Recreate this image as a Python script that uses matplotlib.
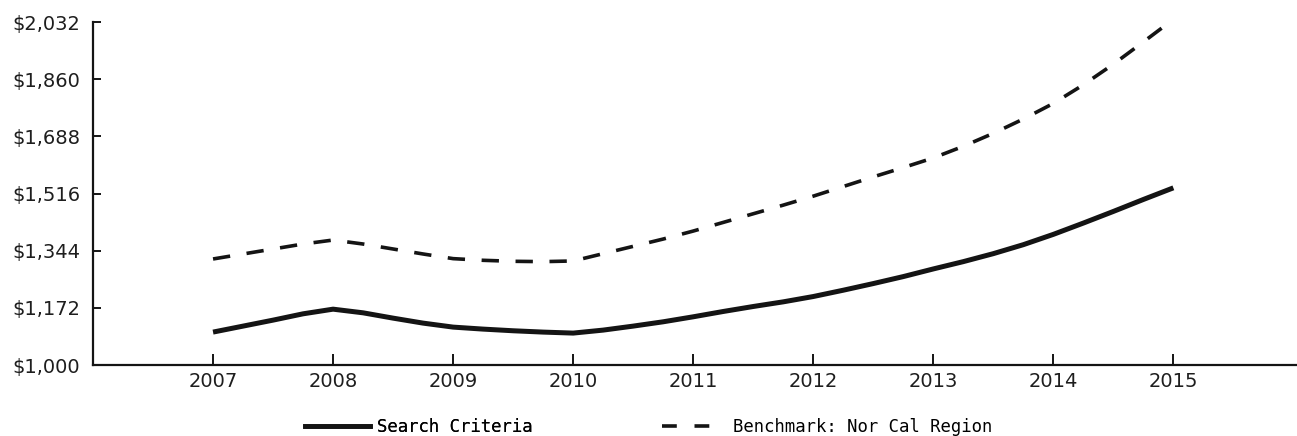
import matplotlib as mpl
mpl.use('Agg')
import matplotlib.pyplot as plt
from matplotlib.lines import Line2D

# values at quarter-year steps, 2007.0 .. 2015.0
years = [2007 + q * 0.25 for q in range(33)]

search_vals = [1099, 1117, 1135, 1154, 1168, 1157, 1141, 1126,
               1114, 1108, 1103, 1099, 1096, 1105, 1117, 1130,
               1145, 1161, 1176, 1190, 1206, 1225, 1245, 1266,
               1289, 1311, 1335, 1362, 1393, 1427, 1462, 1498,
               1533]

bench_vals = [1319, 1334, 1349, 1364, 1376, 1364, 1349, 1334,
              1320, 1315, 1312, 1311, 1313, 1335, 1357, 1379,
              1403, 1429, 1455, 1481, 1508, 1537, 1566, 1594,
              1623, 1658, 1697, 1740, 1787, 1843, 1905, 1972,
              2040]

year_ticks = list(range(2007, 2016))
y_ticks = [1000, 1172, 1344, 1516, 1688, 1860, 2032]
y_labels = ['$1,000', '$1,172', '$1,344', '$1,516', '$1,688', '$1,860', '$2,032']

ink = '#141414'
W, H = 1297, 436

fig = plt.figure(figsize=(W / 100, H / 100), dpi=100)
ax = fig.add_axes([93 / W, 71 / H, 1 - 93 / W, 343 / H])

ax.plot(years, search_vals, color=ink, lw=3.6, solid_capstyle='butt',
        solid_joinstyle='round', clip_on=False)
ax.plot(years, bench_vals, color=ink, lw=2.6, dashes=(4.8, 4.6),
        clip_on=False)

ax.set_xlim(2006, 2016.03)
ax.set_ylim(1000, 2032)
ax.set_xticks(year_ticks)
ax.set_xticklabels([str(y) for y in year_ticks])
ax.set_yticks(y_ticks)
ax.set_yticklabels(y_labels)

for s in ['top', 'right']:
    ax.spines[s].set_visible(False)
for s in ['left', 'bottom']:
    ax.spines[s].set_linewidth(1.6)
    ax.spines[s].set_color(ink)

ax.tick_params(axis='both', direction='in', color=ink, width=1.4,
               labelsize=14, labelcolor='#1e1e1e')
ax.tick_params(axis='y', length=6, pad=9)
ax.tick_params(axis='x', length=8, pad=5)

# legend: two pieces so the handles can differ in length
leg_font = {'family': 'DejaVu Sans Mono', 'size': 12.4}
h1 = Line2D([], [], color=ink, lw=3.4)
h2 = Line2D([], [], color=ink, lw=2.6, dashes=(4.1, 4.9))
leg1 = fig.legend(handles=[h1], labels=['Search Criteria'], loc='center left',
                  bbox_to_anchor=(305 / W, 9 / H), frameon=False,
                  borderpad=0, borderaxespad=0,
                  handlelength=3.76, handletextpad=0.4, prop=leg_font)
fig.add_artist(leg1)
fig.legend(handles=[h2], labels=['Benchmark: Nor Cal Region'], loc='center left',
           bbox_to_anchor=(662 / W, 9 / H), frameon=False,
           borderpad=0, borderaxespad=0,
           handlelength=2.9, handletextpad=1.2, prop=leg_font)

plt.savefig('out.png', dpi=100)
